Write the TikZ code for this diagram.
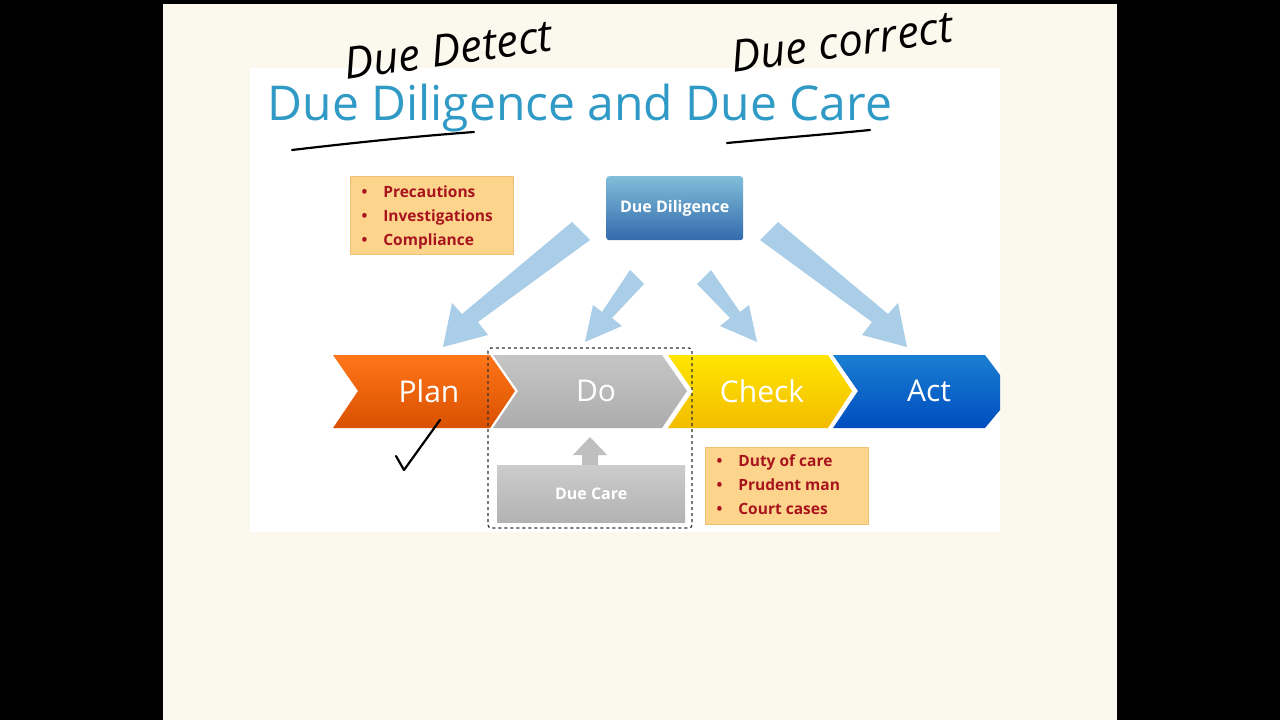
\documentclass[tikz,border=0pt]{standalone}
\usepackage{fontspec}
\setmainfont{Open Sans}
\begin{document}
\begin{tikzpicture}[x=1pt,y=-1pt,
  note/.style={fill=noteC,draw=noteD,line width=0.6pt},
  bul/.style={text=bulC,font=\bfseries\fontsize{15.5}{24}\selectfont,align=left,anchor=north west},
  big/.style={fill=arrC,draw=none},
  chtext/.style={text=white,font=\fontsize{30}{32}\selectfont},
  hand/.style={line width=2.2pt,black,line cap=round,line join=round}]
\definecolor{noteC}{HTML}{FCD48C}\definecolor{noteD}{HTML}{F2C070}
\definecolor{bulC}{HTML}{A8141E}\definecolor{arrC}{HTML}{AACDE8}
\definecolor{cream}{HTML}{FBF9EE}\definecolor{titC}{HTML}{2F9AC6}
\fill[black] (0,0) rectangle (1280,720);
\fill[cream] (163,4) rectangle (1117,720);
\fill[white] (250,68) rectangle (1000,532);
\node[text=titC,font=\fontsize{48}{50}\selectfont,anchor=west] (title) at (264,108) {Due Diligence and Due Care};
% notes
\node[note,minimum width=163,minimum height=78,anchor=north west] (n1) at (350,176) {};
\node[bul] at (358,182) {•\hspace{16pt}Precautions\\•\hspace{16pt}Investigations\\•\hspace{16pt}Compliance};
\node[note,minimum width=163,minimum height=77,anchor=north west] (n2) at (705,447) {};
\node[bul] at (713,451) {•\hspace{16pt}Duty of care\\•\hspace{16pt}Prudent man\\•\hspace{16pt}Court cases};
% big arrows
\path[big] (572,222) -- (590,240) -- (478,322) -- (488,335) -- (443,347) -- (452,303) -- (462,314) -- cycle;
\path[big] (630,270) -- (644,284) -- (612,318) -- (622,326) -- (585,342) -- (593,305) -- (602,312) -- cycle;
\path[big] (697,284) -- (711,270) -- (740,312) -- (749,305) -- (757,342) -- (720,326) -- (730,318) -- cycle;
\path[big] (760,240) -- (778,222) -- (888,314) -- (898,303) -- (907,347) -- (862,335) -- (872,322) -- cycle;
\node[top color=blue!30!cyan!70!black!50,bottom color=blue!55!cyan!60!black!80,draw=none,rounded corners=3,minimum width=137,minimum height=64,anchor=north west] (dd) at (606,176) {};
\node[text=white,font=\bfseries\fontsize{16}{18}\selectfont] at (dd.center) {Due Diligence};
% chevrons
\path[top color=orange!80!red!90!white,bottom color=orange!75!red!85!black] (333,355) -- (490,355) -- (515,391) -- (490,428) -- (333,428) -- (358,391) -- cycle;
\node[chtext] (plan) at (429,391) {Plan};
\path[top color=gray!45,bottom color=gray!65] (493,355) -- (662,355) -- (687,391) -- (662,428) -- (493,428) -- (518,391) -- cycle;
\node[chtext] (do) at (596,391) {Do};
\path[top color=yellow!80!orange,bottom color=yellow!55!orange!95!black] (668,355) -- (828,355) -- (852,391) -- (828,428) -- (668,428) -- (693,391) -- cycle;
\node[chtext] (check) at (762,391) {Check};
\path[top color=blue!45!cyan!80!black!90,bottom color=blue!60!cyan!75!black] (833,355) -- (985,355) -- (1000,375) -- (1000,410) -- (985,428) -- (833,428) -- (858,391) -- cycle;
\node[chtext] (act) at (929,391) {Act};
% due care
\path[fill=gray!50] (582,465) -- (582,455) -- (573,455) -- (590,437) -- (607,455) -- (598,455) -- (598,465) -- cycle;
\node[top color=gray!40,bottom color=gray!60,minimum width=188,minimum height=57,anchor=north west] (dc) at (497,465) {};
\node[text=white,font=\bfseries\fontsize{16}{18}\selectfont] at (dc.center) {Due Care};
\draw[dashed,line width=1.2pt,gray!40!black,rounded corners=3] (488,348) rectangle (692,528);
% handwriting
\node[font=\itshape\fontsize{44}{46}\selectfont,rotate=8] (h1) at (448,50) {Due Detect};
\node[font=\itshape\fontsize{44}{46}\selectfont,rotate=8] (h2) at (842,42) {Due correct};
\draw[hand] (292,150) .. controls (360,142) and (420,136) .. (474,132);
\draw[hand] (727,143) .. controls (780,138) and (830,134) .. (870,130);
\draw[hand] (396,456) -- (404,470) -- (440,420);
\end{tikzpicture}
\end{document}
